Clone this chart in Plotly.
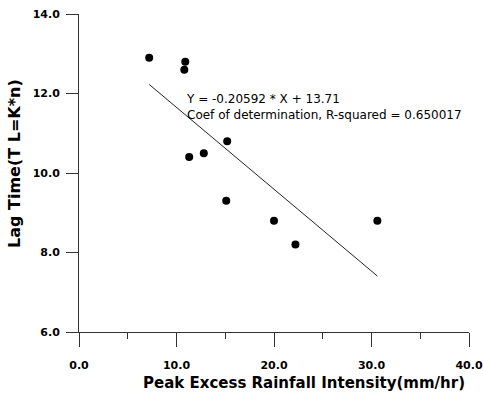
import plotly.graph_objects as go

# Observed storm events
peak_intensity = [7.2, 10.9, 10.8, 11.3, 12.8, 15.2, 15.1, 20.0, 22.2, 30.6]
lag_time = [12.9, 12.8, 12.6, 10.4, 10.5, 10.8, 9.3, 8.8, 8.2, 8.8]

# Least-squares fit
slope = -0.20592
intercept = 13.71
r_squared = 0.650017

x_ticks = [0, 10, 20, 30, 40]
y_ticks = [6, 8, 10, 12, 14]

fit_x = [min(peak_intensity), max(peak_intensity)]
fit_y = [slope * v + intercept for v in fit_x]

font = "DejaVu Sans"

fig = go.Figure()
fig.add_trace(go.Scatter(
    x=fit_x, y=fit_y, mode="lines",
    line=dict(color="#222222", width=1), hoverinfo="skip",
))
fig.add_trace(go.Scatter(
    x=peak_intensity, y=lag_time, mode="markers",
    marker=dict(color="black", size=8),
))

fig.add_annotation(
    x=10.8, y=11.67, xanchor="left", yanchor="middle", showarrow=False, align="left",
    text=f"Y = {slope} * X + {intercept}<br>Coef of determination, R-squared = {r_squared}",
    font=dict(family=font, size=12, color="black"),
)
fig.add_annotation(
    xref="paper", yref="paper", x=0.577, y=-0.16, xanchor="center", yanchor="middle",
    showarrow=False, text="<b>Peak Excess Rainfall Intensity(mm/hr)</b>",
    font=dict(family=font, size=15, color="black"),
)
fig.add_annotation(
    xref="paper", yref="paper", x=-0.167, y=0.531, xanchor="center", yanchor="middle",
    textangle=-90, showarrow=False, text="<b>Lag Time(T L=K*n)</b>",
    font=dict(family=font, size=16, color="black"),
)

axis_common = dict(
    showgrid=False, zeroline=False, showline=True, linecolor="#333333", linewidth=1,
    ticks="outside", tickcolor="#333333", tickwidth=1, automargin=False,
    tickfont=dict(family=font, size=11, color="black", weight="bold"),
    tickformat=".1f",
)
fig.update_xaxes(
    range=[0, 40], tickvals=x_ticks, ticklen=14, ticklabelstandoff=9,
    minor=dict(dtick=5, ticks="outside", ticklen=6, tickcolor="#333333"),
    **axis_common,
)
fig.update_yaxes(range=[6, 14], tickvals=y_ticks, ticklen=12, ticklabelstandoff=4,
                 **axis_common)

fig.update_layout(
    width=483, height=394, showlegend=False, autosize=False,
    margin=dict(l=79, r=14, t=14, b=62),
    plot_bgcolor="white", paper_bgcolor="white",
)
fig.write_html("out.html")
